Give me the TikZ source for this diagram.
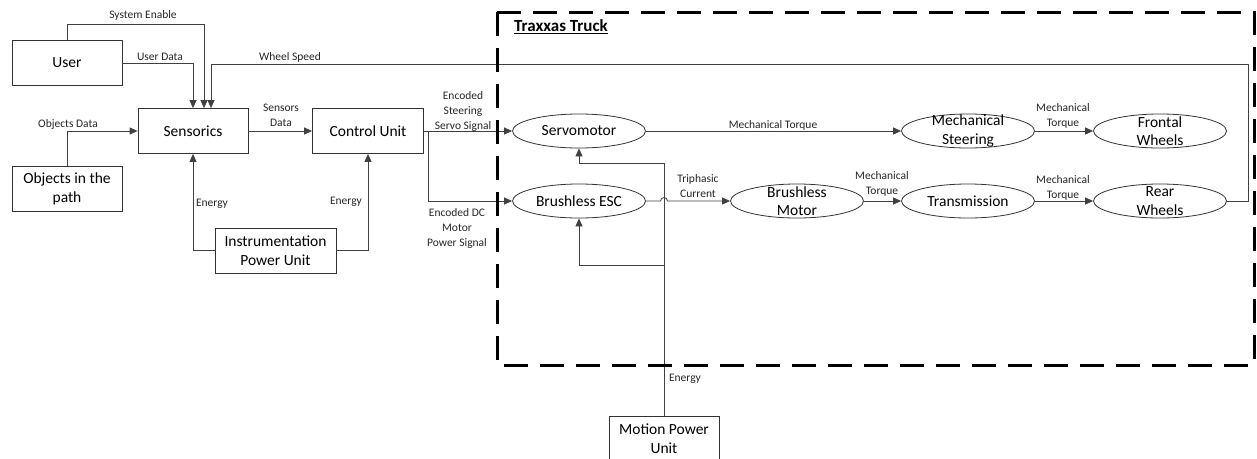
\documentclass[tikz,border=0pt]{standalone}
\usepackage{fontspec}
\setmainfont{Carlito}
\usetikzlibrary{arrows.meta,shapes.geometric}
\tikzstyle{Block}=[minimum width=110pt, minimum height=45pt, fill=white, line width=0.8pt, draw=black!80, shape=rectangle, align=center, inner sep=2pt, font=\fontsize{15.5}{18.5}\selectfont]
\tikzstyle{Part}=[minimum width=133pt, minimum height=34pt, fill=white, line width=0.8pt, draw=black!80, shape=ellipse, inner sep=0pt, font=\fontsize{15.5}{18.5}\selectfont]
\tikzstyle{PartText}=[align=center, inner sep=0pt, font=\fontsize{15.5}{18.5}\selectfont]
\tikzstyle{Signal}=[align=center, inner sep=0pt, text=black!85, font=\fontsize{11.5}{15}\selectfont]
\tikzstyle{wire}=[line width=0.8pt, draw=black!75]
\tikzstyle{arrow}=[line width=0.8pt, draw=black!75, -{Triangle[length=8pt,width=7pt]}]
\tikzstyle{Frame}=[line width=3pt, draw=black, dash pattern=on 24pt off 12pt]
\pgfdeclarelayer{nodelayer}
\pgfdeclarelayer{edgelayer}
\pgfsetlayers{main, nodelayer, edgelayer}

\begin{document}
\begin{tikzpicture}[x=1pt, y=-1pt]
	\useasboundingbox (0,0) rectangle (1257,458);
	\begin{pgfonlayer}{nodelayer}
		\node [style=Block] (user) at (67,63) {User};
		\node [style=Block] (objects) at (67,189) {Objects in the\\path};
		\node [style=Block] (sensorics) at (193,131) {Sensorics};
		\node [style=Block, minimum width=111pt] (control) at (368,131) {Control Unit};
		\node [style=Block, minimum width=121pt] (ipu) at (275.5,250.5) {Instrumentation\\Power Unit};
		\node [style=Block] (mpu) at (664,438.5) {Motion Power\\Unit};
		% truck parts
		\node [style=Part] (servo) at (579,131) {Servomotor};
		\node [style=Part] (esc) at (579,201) {Brushless ESC};
		\node [style=Part, label={[style=PartText]center:Brushless\\Motor}] (motor) at (797,201) {};
		\node [style=Part] (transmission) at (968,201) {Transmission};
		\node [style=Part, label={[style=PartText]center:Rear\\Wheels}] (rear) at (1160,201) {};
		\node [style=Part, label={[style=PartText]center:Mechanical\\Steering}] (steering) at (968,131) {};
		\node [style=Part, label={[style=PartText]center:Frontal\\Wheels}] (front) at (1160,131) {};
	\end{pgfonlayer}
	\begin{pgfonlayer}{edgelayer}
		\coordinate (split) at (428,131);
		\coordinate (speed) at (1248,64);
		\coordinate (feed) at (664,163);
		\coordinate (escfeed) at (664,265);

		\draw [style=arrow] (user.north) -- ++(0,-15.5) -| ([xshift=11pt]sensorics.north);
		\draw [style=arrow] (user.east) -| (sensorics.north);
		\draw [style=arrow] (rear.east) -| (speed) -| ([xshift=18pt]sensorics.north);
		\draw [style=arrow] (objects.north) |- (sensorics.west);
		\draw [style=arrow] (sensorics.east) -- (control.west);
		\draw [style=arrow] (ipu.west) -| (sensorics.south);
		\draw [style=arrow] (ipu.east) -| (control.south);
		\draw [style=wire] (control.east) -- (split);
		\draw [style=arrow] (split) -- (servo.west);
		\draw [style=arrow] (split) |- (esc.west);
		\draw [style=arrow] (servo.east) -- (steering.west);
		\draw [style=arrow] (steering.east) -- (front.west);
		\draw [style=arrow] (esc.east) -- (660.5,201) arc (180:360:3.5) -- (motor.west);
		\draw [style=arrow] (motor.east) -- (transmission.west);
		\draw [style=arrow] (transmission.east) -- (rear.west);
		\draw [style=arrow] (mpu.north) -- (feed) -| (servo.south);
		\draw [style=arrow] (escfeed) -| (esc.south);

		% labels
		\node [style=Signal] (l_enable) at (143,15) {System Enable};
		\node [style=Signal] (l_user) at (160,57) {User Data};
		\node [style=Signal] (l_speed) at (290,57) {Wheel Speed};
		\node [style=Signal] (l_objects) at (68,124) {Objects Data};
		\node [style=Signal] (l_sensors) at (281,115.5) {Sensors\\Data};
		\node [style=Signal] (l_energy1) at (212,204) {Energy};
		\node [style=Signal] (l_energy2) at (346,202) {Energy};
		\node [style=Signal] (l_steer) at (463,111) {Encoded\\Steering\\Servo Signal};
		\node [style=Signal] (l_dc) at (457,228) {Encoded DC\\Motor\\Power Signal};
		\node [style=Signal] (l_torque1) at (773,125) {Mechanical Torque};
		\node [style=Signal] (l_triphasic) at (698,186) {Triphasic\\Current};
		\node [style=Signal] (l_torque2) at (882,184) {Mechanical\\Torque};
		\node [style=Signal] (l_torque3) at (1063,188) {Mechanical\\Torque};
		\node [style=Signal] (l_torque4) at (1063,116) {Mechanical\\Torque};
		\node [style=Signal] (l_energy3) at (685,379) {Energy};

		% truck frame
		\draw [style=Frame] (497,12) rectangle (1254,365);
		\node [font=\fontsize{17}{20}\selectfont\bfseries, inner sep=0pt] (truck) at (561,27) {\underline{Traxxas Truck}};
	\end{pgfonlayer}
\end{tikzpicture}
\end{document}
